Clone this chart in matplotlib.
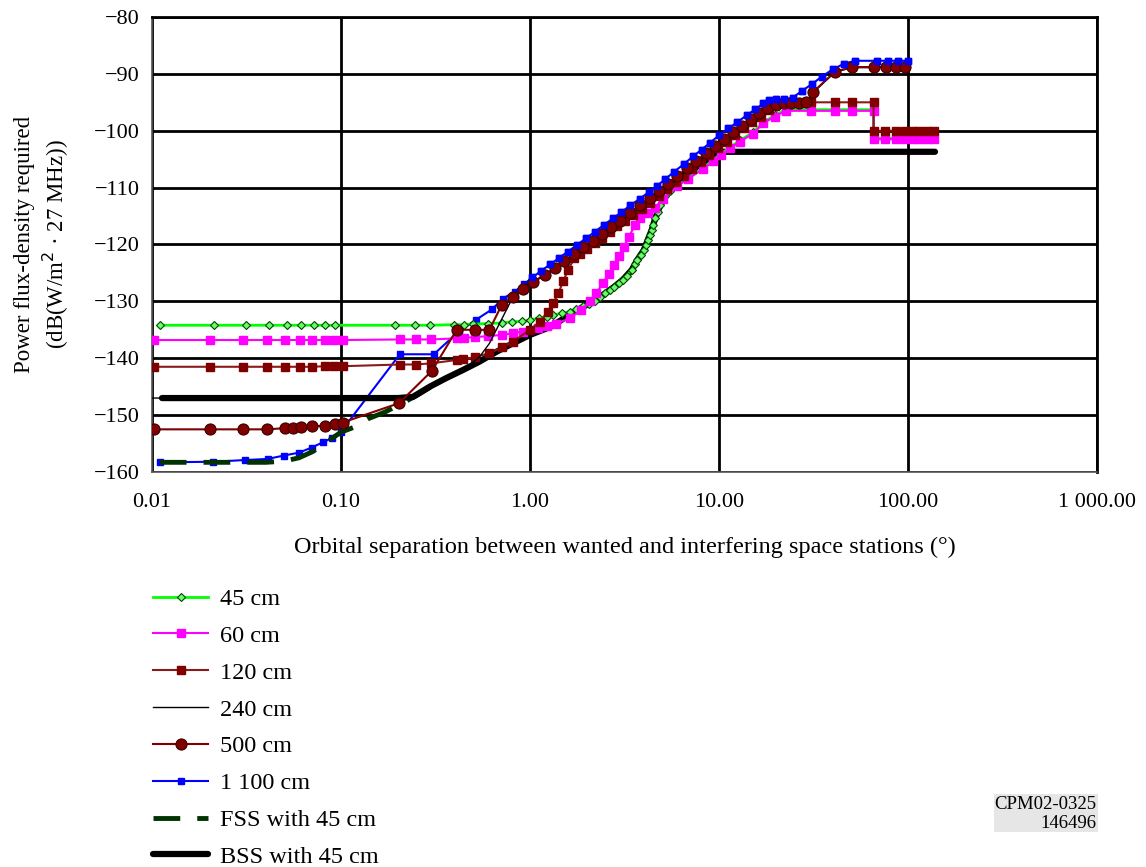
import matplotlib
matplotlib.use("Agg")
import matplotlib.pyplot as plt
from matplotlib.patches import Rectangle

plt.rcParams["font.family"] = ["Liberation Serif", "DejaVu Serif"]
plt.rcParams["font.size"] = 16

# DATA (orbital separation in degrees, pfd in dB(W/m2 . 27 MHz))
x_45 = [0.011, 0.0213, 0.0314, 0.0417, 0.0516, 0.0617, 0.0718, 0.0822, 0.0927, 0.193, 0.247, 0.296,
        0.397, 0.446, 0.50, 0.60, 0.71, 0.80, 0.91, 1.0, 1.12, 1.23, 1.33, 1.47, 1.62, 1.76, 1.9, 2.05,
        2.2, 2.35, 2.5, 2.65, 2.8, 2.95, 3.1, 3.25, 3.45, 3.6, 3.7, 3.85, 4.0, 4.1, 4.2, 4.3, 4.4, 4.5,
        4.6, 4.75, 4.9, 5.05, 5.2, 5.5, 6.0, 6.9, 8.2, 9.3, 10.2, 11.5, 12.9, 15.2, 17.1, 19.8, 22.5,
        30.8, 41.0, 50.8, 65.8, 65.8, 76.0, 86.0, 96.0, 105.4, 114.8, 125.6, 137.5]
y_45 = [-134.2, -134.2, -134.2, -134.2, -134.2, -134.2, -134.2, -134.2, -134.2, -134.2, -134.2, -134.2,
        -134.1, -134.1, -134.0, -133.9, -133.8, -133.6, -133.5, -133.3, -132.9, -132.7, -132.4, -132.1,
        -131.8, -131.4, -130.9, -130.4, -129.9, -129.3, -128.6, -128.0, -127.4, -126.8, -126.2, -125.5,
        -124.5, -123.5, -122.7, -121.9, -121.0, -120.1, -119.2, -118.3, -117.5, -116.5, -115.4, -114.3,
        -113.0, -112.2, -111.4, -110.6, -109.6, -108.2, -106.6, -105.2, -104.1, -102.9, -101.7, -100.3,
        -98.5, -97.3, -96.3, -96.3, -96.3, -96.3, -96.3, -101.3, -101.3, -101.3, -101.3, -101.3, -101.3,
        -101.3, -101.3]

x_60 = [0.0102, 0.0204, 0.0304, 0.0407, 0.0507, 0.0607, 0.0706, 0.0823, 0.092, 0.102, 0.205, 0.248,
        0.30, 0.41, 0.45, 0.51, 0.60, 0.71, 0.81, 0.92, 1.1, 1.23, 1.38, 1.62, 1.87, 2.07, 2.24, 2.43,
        2.62, 2.79, 2.96, 3.14, 3.34, 3.6, 3.8, 4.2, 4.6, 5.05, 6.0, 6.9, 8.2, 9.3, 10.2, 11.5, 12.9,
        15.2, 17.1, 19.8, 22.5, 30.8, 41.0, 50.8, 65.8, 65.8, 76.0, 86.0, 96.0, 105.4, 114.8, 125.6, 137.5]
y_60 = [-136.8, -136.8, -136.8, -136.8, -136.8, -136.8, -136.8, -136.8, -136.8, -136.8, -136.7, -136.7,
        -136.7, -136.5, -136.4, -136.3, -136.1, -135.9, -135.6, -135.3, -134.7, -134.3, -133.9, -133.0,
        -131.5, -130.0, -128.6, -126.8, -125.1, -123.6, -122.1, -120.4, -118.6, -116.6, -115.4, -114.5,
        -113.6, -112.0, -109.8, -108.4, -106.8, -105.4, -104.3, -103.1, -101.9, -100.5, -98.7, -97.5,
        -96.5, -96.5, -96.5, -96.5, -96.5, -101.5, -101.5, -101.5, -101.5, -101.5, -101.5, -101.5, -101.5]

x_120 = [0.0102, 0.0204, 0.0304, 0.0407, 0.0507, 0.0607, 0.0706, 0.0823, 0.092, 0.102, 0.205, 0.248,
         0.30, 0.41, 0.445, 0.51, 0.61, 0.71, 0.81, 1.0, 1.13, 1.24, 1.33, 1.41, 1.50, 1.59, 1.72, 1.85,
         2.0, 2.2, 2.4, 2.65, 2.9, 3.2, 3.5, 3.9, 4.3, 4.8, 5.3, 5.9, 6.5, 7.2, 8.0, 8.9, 9.9, 11.0,
         12.2, 13.5, 15.0, 16.6, 18.3, 20.5, 22.5, 30.8, 41.0, 50.8, 65.8, 65.8, 76.0, 86.0, 96.0, 105.4,
         114.8, 125.6, 137.5]
y_120 = [-141.5, -141.5, -141.5, -141.5, -141.5, -141.5, -141.5, -141.4, -141.4, -141.4, -141.1, -141.1,
         -140.9, -140.3, -140.2, -139.8, -139.1, -138.1, -137.1, -135.0, -133.6, -131.8, -130.3, -128.6,
         -126.5, -124.5, -122.4, -121.6, -120.8, -119.8, -118.8, -117.8, -116.8, -115.8, -114.8, -113.7,
         -112.7, -111.5, -110.3, -109.0, -107.9, -106.7, -105.5, -104.2, -103.0, -101.9, -100.7, -99.6,
         -98.5, -97.5, -96.3, -95.2, -95.0, -95.0, -95.0, -95.0, -95.0, -100.0, -100.0, -100.0, -100.0,
         -100.0, -100.0, -100.0, -100.0]

x_240 = [0.01, 0.02, 0.05, 0.1, 0.2, 0.24, 0.295, 0.36, 0.44, 0.54, 0.61, 0.69, 0.78, 0.88, 1.0, 1.13,
         1.3, 1.5, 1.75, 2.0, 2.4, 2.9, 3.5, 4.2, 5.0, 6.0, 7.2, 8.5, 10.0, 12.0, 14.0, 16.0, 18.0, 20.0,
         24.0, 29.0, 31.5, 41.1, 50.8, 96.0]
y_240 = [-147.0, -147.0, -147.0, -147.0, -147.0, -146.8, -145.0, -143.5, -142.1, -139.8, -137.4, -133.9,
         -130.4, -128.0, -126.8, -125.8, -124.5, -123.4, -121.8, -120.4, -118.4, -116.4, -114.4, -112.5,
         -110.6, -108.4, -106.3, -104.4, -102.4, -100.5, -98.9, -97.6, -96.3, -95.6, -95.3, -95.1, -93.3,
         -89.7, -88.9, -88.9]

x_500 = [0.0102, 0.0204, 0.0304, 0.0407, 0.0503, 0.0555, 0.0614, 0.0706, 0.0823, 0.093, 0.102, 0.203,
         0.303, 0.41, 0.51, 0.61, 0.71, 0.81, 0.92, 1.04, 1.2, 1.36, 1.52, 1.7, 1.9, 2.15, 2.4, 2.7, 3.0,
         3.4, 3.8, 4.3, 4.8, 5.4, 6.0, 6.8, 7.6, 8.5, 9.5, 10.6, 11.8, 13.2, 14.7, 16.3, 18.0, 20.0, 22.0,
         24.0, 26.5, 29.0, 31.5, 41.1, 50.8, 65.8, 76.4, 86.0, 96.0]
y_500 = [-152.5, -152.5, -152.5, -152.5, -152.3, -152.3, -152.1, -151.9, -151.9, -151.6, -151.3, -147.9,
         -142.2, -135.0, -135.0, -135.0, -130.6, -129.2, -127.9, -126.6, -125.4, -124.1, -122.9, -121.7,
         -120.5, -119.3, -118.1, -116.9, -115.8, -114.4, -113.1, -111.8, -110.6, -109.3, -108.0, -106.6,
         -105.3, -104.0, -102.7, -101.5, -100.3, -99.1, -98.0, -96.9, -96.0, -95.4, -95.2, -95.2, -95.2,
         -95.0, -93.2, -89.6, -88.8, -88.8, -88.8, -88.8, -88.8]

x_1100 = [0.011, 0.021, 0.031, 0.041, 0.05, 0.06, 0.07, 0.08, 0.09, 0.1, 0.205, 0.31, 0.42, 0.52, 0.63,
          0.72, 0.83, 0.93, 1.03, 1.15, 1.28, 1.42, 1.58, 1.77, 1.98, 2.2, 2.45, 2.75, 3.05, 3.4, 3.8,
          4.25, 4.7, 5.2, 5.8, 6.5, 7.3, 8.1, 9.0, 10.0, 11.2, 12.5, 14.0, 15.6, 17.2, 18.5, 20.0, 22.0,
          24.5, 27.5, 31.0, 35.0, 40.0, 46.0, 52.5, 68.4, 78.2, 88.8, 100.0]
y_1100 = [-158.3, -158.2, -157.9, -157.7, -157.1, -156.6, -155.7, -154.8, -154.0, -152.9, -139.3, -139.3,
          -135.3, -133.2, -131.4, -129.5, -128.3, -127.0, -125.8, -124.6, -123.5, -122.4, -121.3, -120.1,
          -118.9, -117.8, -116.6, -115.4, -114.3, -113.1, -112.0, -110.8, -109.7, -108.5, -107.2, -105.9,
          -104.5, -103.3, -102.1, -100.8, -99.6, -98.5, -97.3, -96.2, -95.2, -94.6, -94.5, -94.5, -94.2,
          -93.0, -91.8, -90.5, -89.2, -88.2, -87.7, -87.7, -87.7, -87.7, -87.7]

x_fss = [0.011, 0.02, 0.03, 0.04, 0.05, 0.06, 0.071, 0.085, 0.1, 0.12, 0.14, 0.17, 0.2, 0.25, 0.3, 0.36,
         0.44, 0.54, 0.67, 0.81, 1.0]
y_fss = [-158.3, -158.3, -158.3, -158.3, -158.1, -157.5, -156.4, -154.6, -153.0, -152.0, -150.6, -149.5,
         -148.3, -146.6, -145.0, -143.5, -142.1, -140.6, -138.8, -137.4, -135.9]

x_bss = [0.0113, 0.02, 0.05, 0.1, 0.15, 0.2, 0.24, 0.295, 0.36, 0.44, 0.54, 0.67, 0.81, 1.0, 1.28, 1.67,
         2.14, 2.5, 2.8, 3.1, 3.45, 3.7, 4.0, 4.2, 4.4, 4.6, 4.8, 5.05, 5.6, 6.7, 7.9, 9.3, 10.4, 20.0,
         50.0, 100.0, 139.0]
y_bss = [-147.0, -147.0, -147.0, -147.0, -147.0, -147.0, -146.8, -145.0, -143.5, -142.1, -140.6, -138.8,
         -137.4, -135.9, -134.5, -132.1, -130.0, -128.6, -127.4, -126.2, -124.5, -122.7, -121.0, -119.2,
         -117.5, -115.4, -113.8, -112.2, -109.8, -107.8, -106.0, -104.7, -103.7, -103.7, -103.7, -103.7,
         -103.7]

x_ticks = [0.01, 0.1, 1, 10, 100, 1000]
x_tick_labels = ["0.01", "0.10", "1.00", "10.00", "100.00", "1 000.00"]
y_ticks = [-160, -150, -140, -130, -120, -110, -100, -90, -80]


fig = plt.figure(figsize=(11.46, 8.67), dpi=100)
ax = fig.add_axes([0.1326, 0.4556, 0.8246, 0.5248])

# reference curves sit low; the dish-size series markers are drawn over them
ax.plot(x_1100, y_1100, color="#0000ff", lw=1.5, marker="s", ms=4.5, mfc="#0000ff", mec="#0000ff",
        zorder=2.0, label="1 100 cm")
ax.plot(x_fss, y_fss, color="#003300", lw=3.5, ls=(0, (5.5, 3.5)), zorder=2.2, label="FSS with 45 cm")
ax.plot(x_bss, y_bss, color="black", lw=4.5, solid_capstyle="round", zorder=2.4, label="BSS with 45 cm")

ax.plot(x_45, y_45, color="#00ff00", lw=2, marker="D", ms=4, mfc="#66ff66", mec="#004400",
        mew=0.8, zorder=3, label="45 cm")
ax.plot(x_60, y_60, color="#ff00ff", lw=1.5, marker="s", ms=6, mfc="#ff00ff", mec="#ff00ff",
        zorder=3, label="60 cm")
ax.plot(x_120, y_120, color="#8b1a1a", lw=1.5, marker="s", ms=5.5, mfc="#800000", mec="#800000",
        zorder=3, label="120 cm")
ax.plot(x_240, y_240, color="black", lw=1.0, zorder=3, label="240 cm")
ax.plot(x_500, y_500, color="#800000", lw=1.5, marker="o", ms=8, mfc="#800000", mec="#3a0000",
        mew=0.8, zorder=4, label="500 cm")
# redraw blue markers on top of the envelope so the upper edge stays blue
ax.plot(x_1100[18:], y_1100[18:], ls="none", marker="s", ms=4.5, mfc="#0000ff", mec="#0000ff",
        zorder=4.5)

ax.set_xscale("log")
ax.set_xlim(0.01, 1000)
ax.set_ylim(-160, -80)
ax.set_xticks(x_ticks)
ax.set_xticklabels(x_tick_labels)
ax.set_yticks(y_ticks)
ax.set_yticklabels(["\u2212%d" % abs(v) for v in y_ticks])
ax.minorticks_off()
ax.tick_params(axis="x", length=0, pad=15, labelsize=16)
ax.tick_params(axis="y", length=0, pad=9, labelsize=16)
ax.grid(True, color="black", lw=2)
ax.set_axisbelow(True)
for side in ["left", "bottom"]:
    ax.spines[side].set_color("#555555")
    ax.spines[side].set_linewidth(1.2)
for side in ["top", "right"]:
    ax.spines[side].set_color("black")
    ax.spines[side].set_linewidth(2)

ax.set_xlabel("Orbital separation between wanted and interfering space stations (\u00b0)",
              fontsize=17.5, labelpad=18)
ax.set_ylabel("Power flux-density required\n(dB(W/m$^2$ \u00b7 27 MHz))", fontsize=16.5,
              labelpad=16, linespacing=1.25)

handles, labels = ax.get_legend_handles_labels()
order = ["45 cm", "60 cm", "120 cm", "240 cm", "500 cm", "1 100 cm", "FSS with 45 cm", "BSS with 45 cm"]
hmap = dict(zip(labels, handles))
fig.legend([hmap[k] for k in order], order, loc="upper left", bbox_to_anchor=(0.1253, 0.333),
           frameon=False, numpoints=1, handlelength=2.26, handletextpad=0.5, labelspacing=0.61,
           fontsize=17.5, borderaxespad=0)

fig.patches.append(Rectangle((0.867, 0.04), 0.091, 0.044, transform=fig.transFigure,
                             facecolor="#e6e6e6", edgecolor="none"))
fig.text(0.957, 0.072, "CPM02-0325", ha="right", va="center", fontsize=13.5)
fig.text(0.957, 0.05, "146496", ha="right", va="center", fontsize=13.5)

fig.savefig("out.png", dpi=100)
